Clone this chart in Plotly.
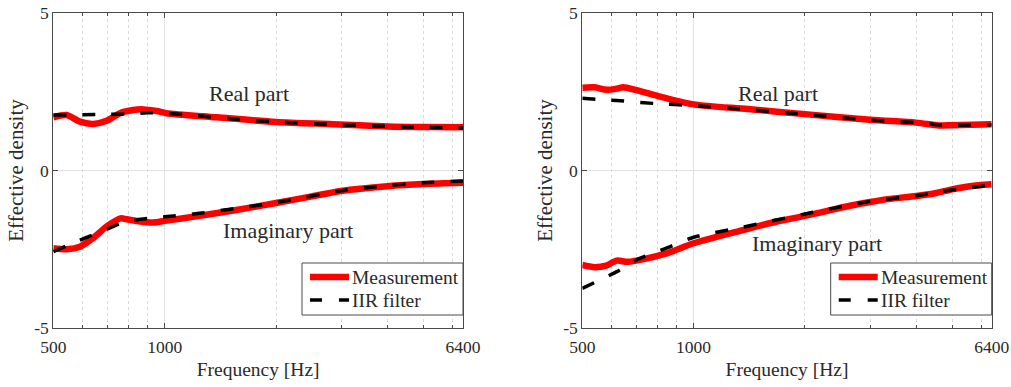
import math
import plotly.graph_objects as go

# ---- data -------------------------------------------------------------
# Panel (a)
a_real_meas_f = [500, 543, 590, 641, 697, 757, 822, 875, 951, 1011, 1381, 2000, 2848, 4000, 5000, 6400]
a_real_meas_v = [1.69, 1.76, 1.55, 1.48, 1.58, 1.82, 1.92, 1.94, 1.89, 1.82, 1.69, 1.54, 1.47, 1.40, 1.38, 1.37]
a_real_iir_f = [500, 600, 700, 800, 900, 1000, 1200, 1500, 2000, 3000, 4000, 5000, 6400]
a_real_iir_v = [1.76, 1.77, 1.78, 1.80, 1.83, 1.82, 1.75, 1.64, 1.54, 1.45, 1.40, 1.37, 1.35]
a_imag_meas_f = [500, 545, 590, 640, 700, 760, 790, 860, 930, 1000, 1240, 1520, 2000, 2500, 3000, 4000, 5000, 6400]
a_imag_meas_v = [-2.47, -2.50, -2.42, -2.15, -1.76, -1.52, -1.55, -1.62, -1.65, -1.60, -1.44, -1.28, -1.03, -0.82, -0.65, -0.50, -0.43, -0.39]
a_imag_iir_f = [500, 590, 700, 760, 860, 1000, 1240, 1520, 2000, 3000, 4000, 5000, 6400]
a_imag_iir_v = [-2.58, -2.21, -1.86, -1.68, -1.55, -1.47, -1.36, -1.22, -1.02, -0.64, -0.48, -0.39, -0.33]

# Panel (b)
b_real_meas_f = [500, 540, 582, 620, 645, 700, 780, 1000, 1400, 2000, 3000, 4000, 4600, 5000, 6400]
b_real_meas_v = [2.63, 2.64, 2.56, 2.60, 2.64, 2.55, 2.40, 2.10, 1.95, 1.79, 1.61, 1.52, 1.43, 1.44, 1.47]
b_real_iir_f = [500, 620, 780, 1000, 1400, 2000, 3000, 4000, 4600, 5000, 6400]
b_real_iir_v = [2.29, 2.22, 2.13, 2.06, 1.93, 1.78, 1.60, 1.52, 1.45, 1.44, 1.45]
b_imag_meas_f = [500, 540, 580, 620, 660, 700, 850, 1000, 1360, 1680, 2000, 2650, 3000, 3400, 4000, 4500, 5000, 5600, 6400]
b_imag_meas_v = [-3.00, -3.07, -3.02, -2.86, -2.90, -2.86, -2.62, -2.31, -1.89, -1.62, -1.44, -1.12, -1.00, -0.90, -0.81, -0.72, -0.60, -0.50, -0.44]
b_imag_iir_f = [500, 620, 700, 850, 1000, 1360, 2000, 3000, 4000, 5000, 6400]
b_imag_iir_v = [-3.74, -3.21, -2.84, -2.45, -2.12, -1.80, -1.38, -0.98, -0.80, -0.62, -0.46]

x_tick_vals = [500, 1000, 6400]
x_tick_text = ["500", "1000", "6400"]
x_minor_vals = [600, 700, 800, 900, 2000, 3000, 4000, 5000, 6000]
y_tick_vals = [-5, 0, 5]
y_tick_text = ["-5", "0", "5"]

legend_names = ["Measurement", "IIR filter"]

# ---- styling ----------------------------------------------------------
W, H = 1011, 387
SERIF = "Liberation Serif, Times New Roman, serif"
RED = "#ff0000"
AX = "#4a4a4a"
TXT = "#2a2a2a"
MEAS_W = 6.5
IIR_W = 3.5
IIR_DASH = "13px,16px"

# plot-area boxes in pixels: (left, right), shared (top, bottom)
PANELS = [(53.3, 463.0), (582.3, 991.7)]
TOP, BOTTOM = 13.0, 328.0

fig = go.Figure()


def add_panel(idx, rm_f, rm_v, ri_f, ri_v, im_f, im_v, ii_f, ii_v):
    xa = "x" if idx == 1 else "x2"
    ya = "y" if idx == 1 else "y2"
    meas = dict(color=RED, width=MEAS_W, shape="spline", smoothing=0.8)
    iir = dict(color="black", width=IIR_W, dash=IIR_DASH, shape="spline", smoothing=0.8)
    for f, v, ln, nm in [(rm_f, rm_v, meas, legend_names[0]),
                         (ri_f, ri_v, iir, legend_names[1]),
                         (im_f, im_v, meas, legend_names[0]),
                         (ii_f, ii_v, iir, legend_names[1])]:
        fig.add_trace(go.Scatter(x=f, y=v, mode="lines", name=nm, line=ln,
                                 xaxis=xa, yaxis=ya, showlegend=False))


add_panel(1, a_real_meas_f, a_real_meas_v, a_real_iir_f, a_real_iir_v,
          a_imag_meas_f, a_imag_meas_v, a_imag_iir_f, a_imag_iir_v)
add_panel(2, b_real_meas_f, b_real_meas_v, b_real_iir_f, b_real_iir_v,
          b_imag_meas_f, b_imag_meas_v, b_imag_iir_f, b_imag_iir_v)


def xaxis_cfg(x0, x1, anchor):
    return dict(
        type="log", range=[math.log10(500), math.log10(6400)],
        domain=[x0 / W, x1 / W], anchor=anchor,
        tickmode="array", tickvals=x_tick_vals, ticktext=x_tick_text,
        ticks="inside", ticklen=5, tickcolor=AX, tickwidth=1,
        showline=True, linecolor=AX, linewidth=1, mirror="ticks",
        showgrid=True, gridcolor="#e2e2e2", gridwidth=1,
        minor=dict(tickmode="array", tickvals=x_minor_vals, ticks="inside", ticklen=3,
                   tickcolor=AX, showgrid=True, gridcolor="#dadada", griddash="dot", gridwidth=1),
        tickfont=dict(family=SERIF, size=17.5, color=TXT),
        ticklabelstandoff=3,
        title=dict(text="Frequency [Hz]", font=dict(family=SERIF, size=19.5, color=TXT), standoff=6),
        automargin=False, zeroline=False, fixedrange=True,
    )


def yaxis_cfg(anchor):
    return dict(
        range=[-5, 5], domain=[1 - BOTTOM / H, 1 - TOP / H], anchor=anchor,
        tickmode="array", tickvals=y_tick_vals, ticktext=y_tick_text,
        ticks="inside", ticklen=5, tickcolor=AX, tickwidth=1,
        showline=True, linecolor=AX, linewidth=1, mirror="ticks",
        showgrid=True, gridcolor="#e2e2e2", gridwidth=1, zeroline=False,
        tickfont=dict(family=SERIF, size=17.5, color=TXT),
        title=dict(text="Effective density", font=dict(family=SERIF, size=21, color=TXT), standoff=4),
        automargin=False, fixedrange=True,
    )


fig.update_layout(
    width=W, height=H,
    margin=dict(l=0, r=0, t=0, b=0),
    paper_bgcolor="white", plot_bgcolor="white",
    xaxis=xaxis_cfg(*PANELS[0], "y"),
    yaxis=yaxis_cfg("x"),
    xaxis2=xaxis_cfg(*PANELS[1], "y2"),
    yaxis2=yaxis_cfg("x2"),
    showlegend=False,
)

# curve labels (placed in data coordinates)
label_font = dict(family=SERIF, size=22, color=TXT)
labels = [
    ("x", "y", 1688, 2.46, "Real part"),
    ("x", "y", 2151, -1.89, "Imaginary part"),
    ("x2", "y2", 1691, 2.46, "Real part"),
    ("x2", "y2", 2153, -2.31, "Imaginary part"),
]
for xr, yr, fx, fy, txt in labels:
    fig.add_annotation(x=math.log10(fx), y=fy, xref=xr, yref=yr, text=txt,
                       showarrow=False, font=label_font, xanchor="center", yanchor="middle")


# legend boxes in the lower-right corner of each panel
def px(x):
    return x / W


def py(y):
    return 1 - y / H


for left, right in PANELS:
    bx0, bx1, by0, by1 = right - 161, right, 263, 315
    fig.add_shape(type="rect", xref="paper", yref="paper",
                  x0=px(bx0), x1=px(bx1), y0=py(by1), y1=py(by0),
                  line=dict(color=AX, width=1), fillcolor="white", layer="above")
    rows = [(277, dict(color=RED, width=MEAS_W)),
            (300, dict(color="black", width=IIR_W, dash="12px,17px"))]
    for (yy, ln), name in zip(rows, legend_names):
        fig.add_shape(type="line", xref="paper", yref="paper",
                      x0=px(bx0 + 8), x1=px(bx0 + 47), y0=py(yy), y1=py(yy),
                      line=ln, layer="above")
        fig.add_annotation(x=px(bx0 + 48), y=py(yy), xref="paper", yref="paper",
                           text=name, showarrow=False, xanchor="left", yanchor="middle",
                           font=dict(family=SERIF, size=19.5, color=TXT))

fig.write_html("out.html")
